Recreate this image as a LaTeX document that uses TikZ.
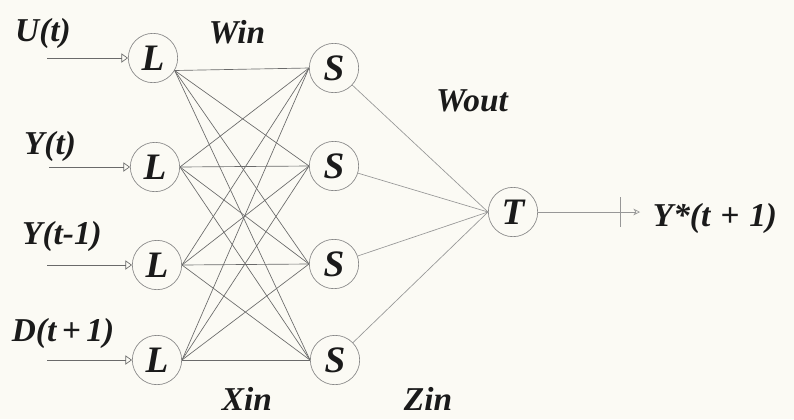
\documentclass[tikz,border=0pt]{standalone}
\usepackage{fontspec}
\setmainfont{Liberation Serif}
\usetikzlibrary{arrows.meta}
\definecolor{paper}{HTML}{FBFAF4}
\definecolor{ink}{HTML}{1A1A1A}
\definecolor{wire}{HTML}{6A6A6A}
\begin{document}
\begin{tikzpicture}[x=0.75pt,y=-0.75pt,
  neuron/.style={circle,draw=wire!80,line width=0.5pt,minimum size=37pt,inner sep=0pt,
    font=\fontsize{28}{28}\selectfont\bfseries\itshape,text=ink},
  lab/.style={font=\fontsize{25}{25}\selectfont\bfseries\itshape,text=ink,inner sep=0pt},
  link/.style={draw=wire,line width=0.5pt},
  outlink/.style={draw=wire!70,line width=0.5pt},
  inarrow/.style={draw=wire,line width=0.5pt,-{Triangle[open,length=5pt,width=7pt]}},
]
\fill[paper] (0,0) rectangle (794,419);
\useasboundingbox (0,0) rectangle (794,419);

% input layer
\node[neuron] (L1) at (153,58) {L};
\node[neuron] (L2) at (155,167) {L};
\node[neuron] (L3) at (157,265) {L};
\node[neuron] (L4) at (157,360) {L};
% hidden layer
\node[neuron] (S1) at (334,68) {S};
\node[neuron] (S2) at (334,166) {S};
\node[neuron] (S3) at (334,264) {S};
\node[neuron] (S4) at (335,360) {S};
% output
\node[neuron] (T) at (513,212) {T};

% labels
\node[lab] (lU) at (43,33) {U(t)};
\node[lab] (lY) at (50,146) {Y(t)};
\node[lab] (lY1) at (62,236) {Y(t-1)};
\node[lab] (lD) at (63,333) {D(t\,+\,1)};
\node[lab] (lWin) at (237,32) {Win};
\node[lab] (lWout) at (472,101) {Wout};
\node[lab] (lXin) at (247,399) {Xin};
\node[lab] (lZin) at (428,399) {Zin};
\node[lab] (lYs) at (715,218) {Y*(t\hspace{0.3em}+\hspace{0.3em}1)};

% input arrows
\coordinate (i1) at (47,58);
\coordinate (i2) at (49,167);
\coordinate (i3) at (47,265);
\coordinate (i4) at (47,360);
\draw[inarrow] (i1) -- (L1.west);
\draw[inarrow] (i2) -- (L2.west);
\draw[inarrow] (i3) -- (L3.west);
\draw[inarrow] (i4) -- (L4.west);

% full connections L -> S
\foreach \j in {1,2,3,4}{
  \draw[link] (L1.-30) -- (S\j.west);
  \draw[link] (L2.east) -- (S\j.west);
  \draw[link] (L3.east) -- (S\j.west);
  \draw[link] (L4.east) -- (S\j.west);
}
% S -> T
\foreach \j in {1,2,3,4}{
  \draw[outlink] (S\j) -- (T.west);
}
% output
\coordinate (out) at (640,212);
\coordinate (tick) at (620,212);
\draw[outlink,-{Stealth[length=5pt,width=5pt,open]}] (T.east) -- (out);
\draw[outlink] ([yshift=-11pt]tick) -- ([yshift=11pt]tick);
\end{tikzpicture}
\end{document}
